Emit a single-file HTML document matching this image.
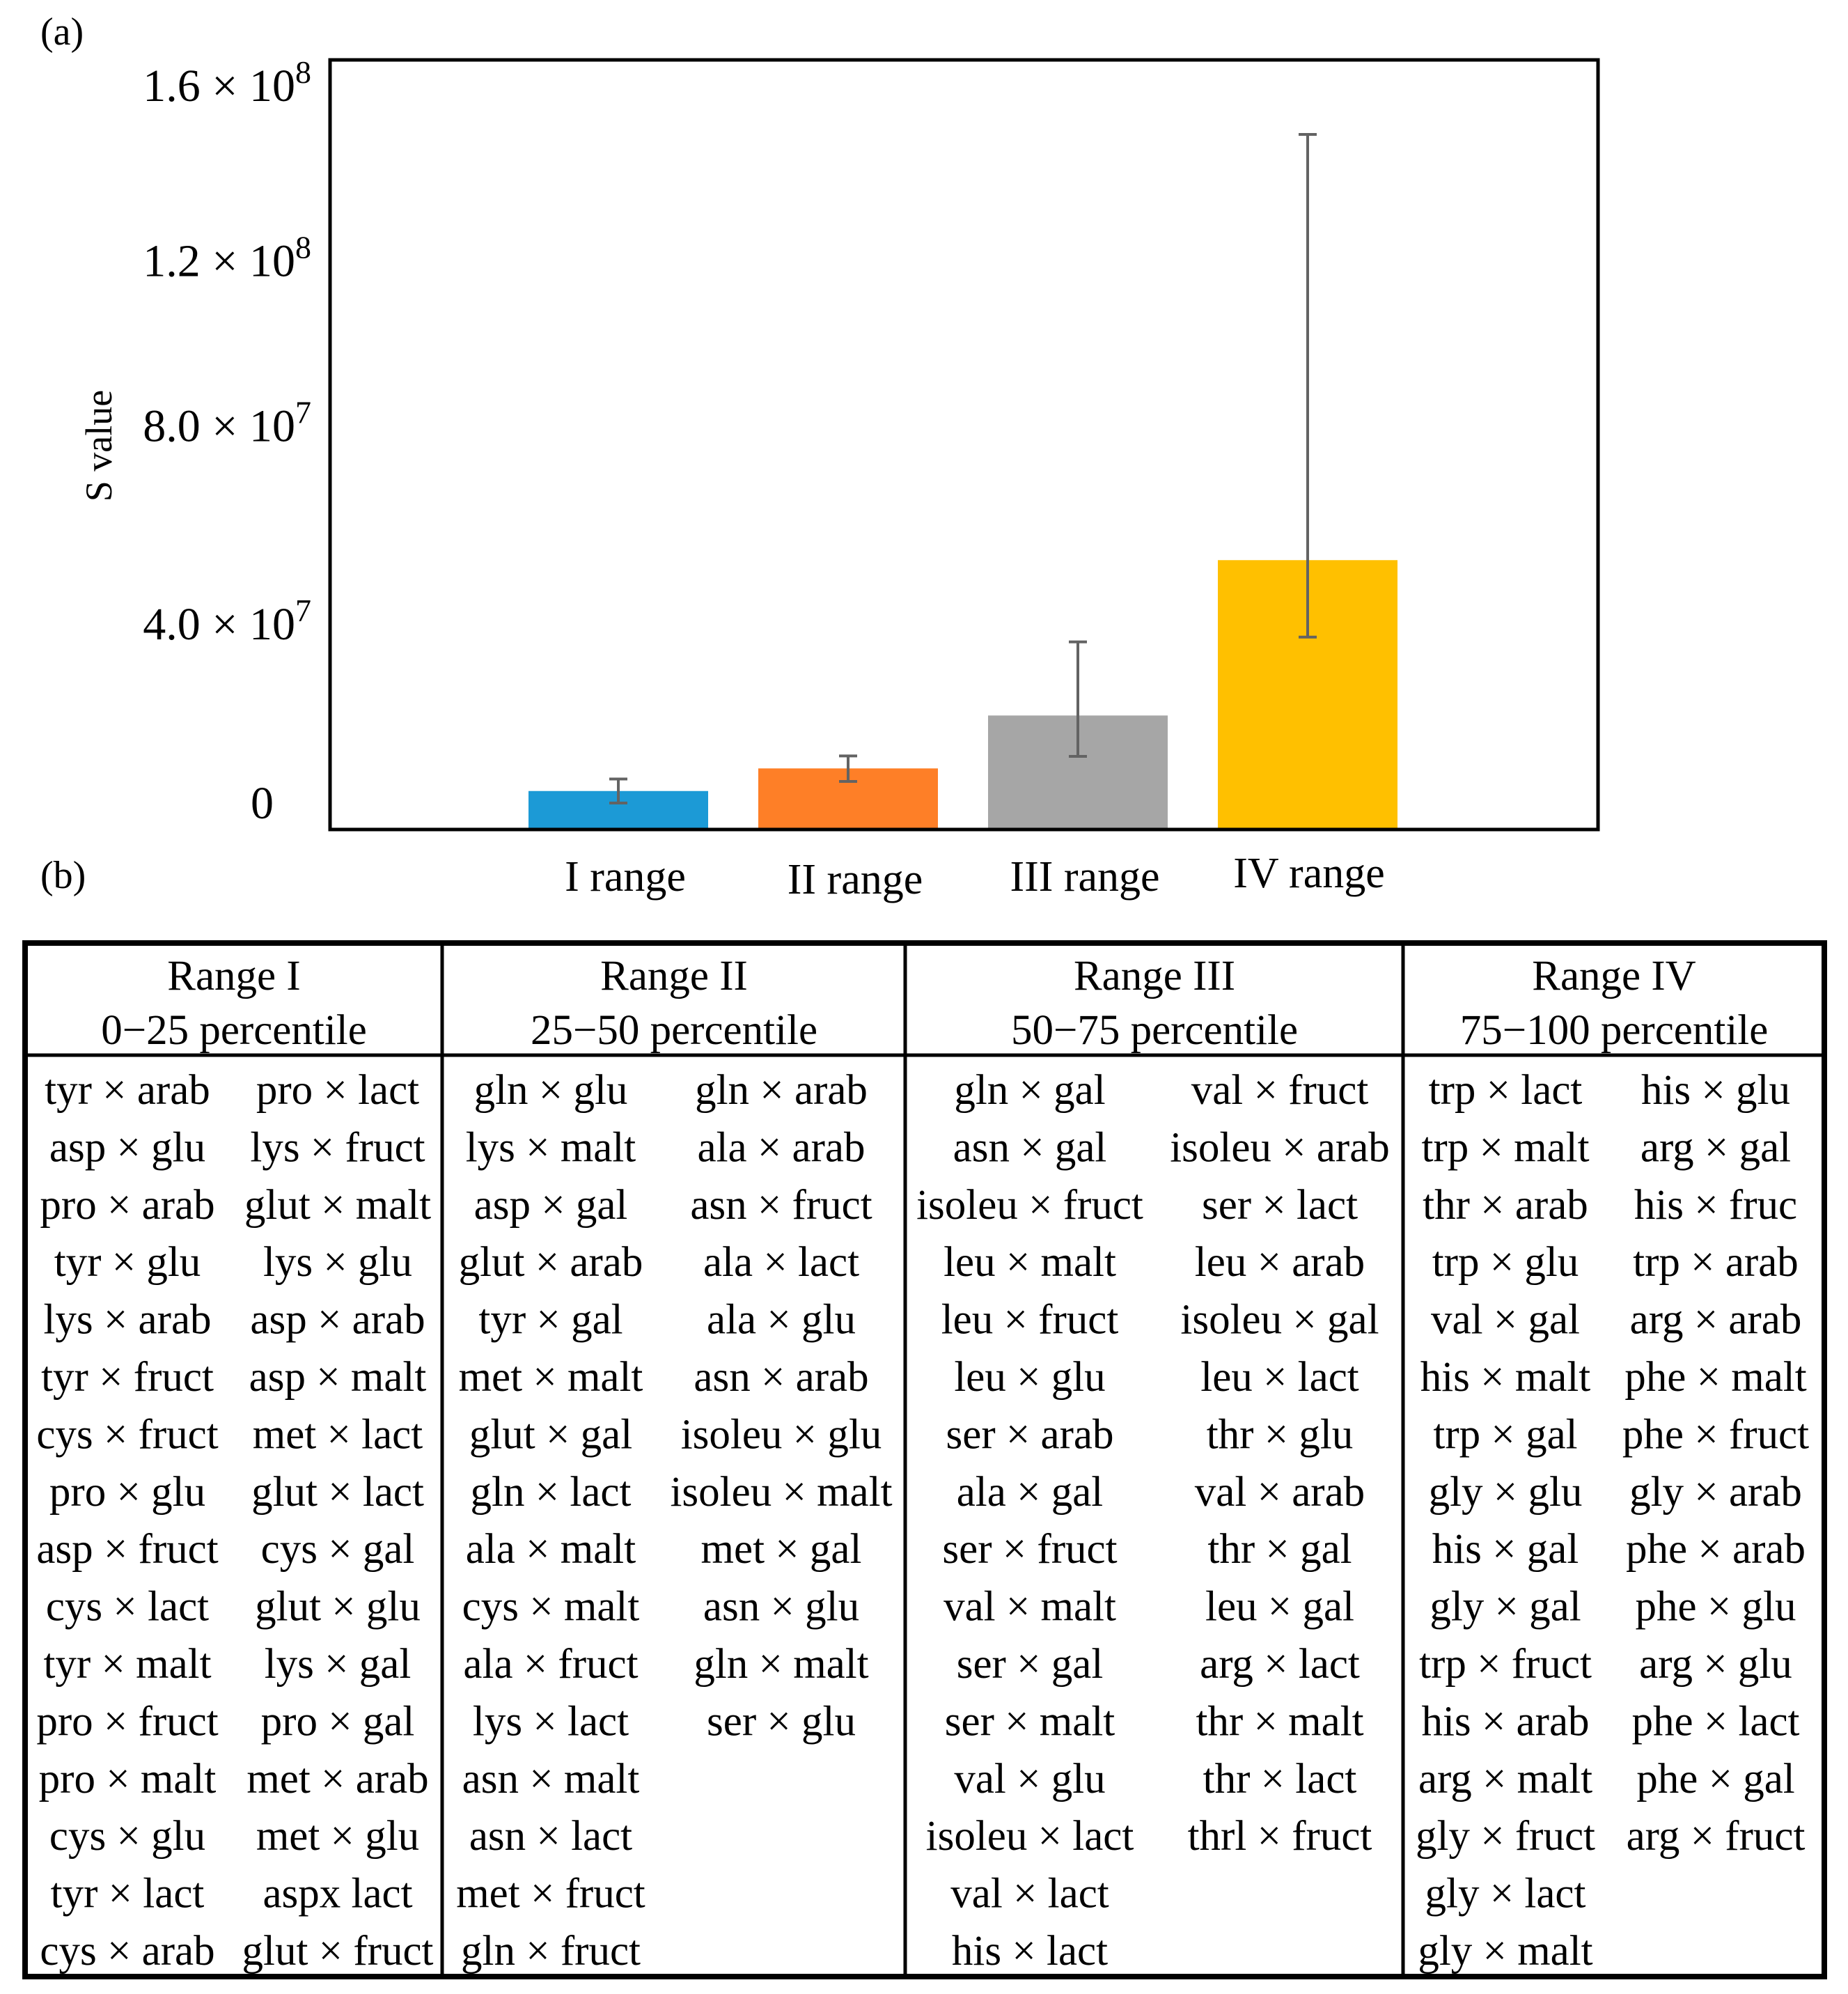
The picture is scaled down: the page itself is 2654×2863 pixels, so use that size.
<!DOCTYPE html>
<html><head><meta charset="utf-8">
<style>
html,body{margin:0;padding:0;background:#fff;}
svg{display:block;font-family:"Liberation Serif",serif;}
</style></head>
<body>
<svg id="fig" width="2654" height="2863" viewBox="0 0 2654 2863" xmlns="http://www.w3.org/2000/svg">
<text x="58" y="64" font-size="56">(a)</text>
<text x="58" y="1275" font-size="56">(b)</text>
<text transform="translate(160,640) rotate(-90)" text-anchor="middle" font-size="54">S value</text>
<g id="chart"></g>
<g id="table"></g>
</svg>
<script>
const categories = ["I range","II range","III range","IV range"];
const values = [8.0e6, 1.27e7, 2.37e7, 5.6e7];
const errLow = [5.5e6, 1.0e7, 1.52e7, 4.0e7];
const errHigh = [1.05e7, 1.53e7, 3.9e7, 1.445e8];
const tickValues = [0, 4e7, 8e7, 1.2e8, 1.6e8];
const tickMant = ["0","4.0","8.0","1.2","1.6"];
const tickExp = ["","7","7","8","8"];
const colors = ["#1c9ad6","#fe7f27","#a6a6a6","#ffc000"];

const NS="http://www.w3.org/2000/svg";
const L=474,R=2295,T=86,B=1191;
const yMax=1.6e8;
function y(v){return B-(v/yMax)*(B-T);}
function x(i){return 888+i*330;}
function mk(tag,attrs,parent){const e=document.createElementNS(NS,tag);for(const k in attrs)e.setAttribute(k,attrs[k]);parent.appendChild(e);return e;}
const chart=document.getElementById('chart');
const bw=258;
const labelDx=[10,10,10,2], labelDy=[1279,1283,1279,1274];
for(let i=0;i<categories.length;i++){
  const cx=x(i);
  const r=mk('rect',{x:cx-bw/2,y:y(values[i]),width:bw,height:B-y(values[i]),fill:colors[i]},chart);
  
  
  const g=mk('g',{stroke:'#636363','stroke-width':4},chart);
  
  
  mk('line',{x1:cx,x2:cx,y1:y(errLow[i]),y2:y(errHigh[i])},g);
  mk('line',{x1:cx-13,x2:cx+13,y1:y(errLow[i]),y2:y(errLow[i])},g);
  mk('line',{x1:cx-13,x2:cx+13,y1:y(errHigh[i]),y2:y(errHigh[i])},g);
  const t=mk('text',{x:cx+labelDx[i],y:labelDy[i],'text-anchor':'middle','font-size':62},chart);
  t.textContent=categories[i];
  
  
}
const fr=mk('rect',{x:L,y:T,width:R-L,height:B-T,fill:'none',stroke:'#000','stroke-width':5},chart);


const tickDy=[-16,3,-5,34,59];
for(let i=0;i<tickValues.length;i++){
  const ty=y(tickValues[i])+tickDy[i];
  const t=mk('text',{x:(i===0?393:447),y:ty,'text-anchor':'end','font-size':66},chart);
  
  
  if(tickExp[i]){
    t.textContent=tickMant[i]+" \u00d7 10";
    const s=mk('tspan',{dy:-26,'font-size':46},t);s.textContent=tickExp[i];
  } else t.textContent=tickMant[i];
}
// table
const tb=document.getElementById('table');
const headers=[["Range I","0\u221225 percentile"],["Range II","25\u221250 percentile"],["Range III","50\u221275 percentile"],["Range IV","75\u2212100 percentile"]];
const colX=[[183,485],[791,1122],[1479,1838],[2162,2464]];
const hdrX=[336,968,1658,2318];
const cols=[
[["tyr × arab","asp × glu","pro × arab","tyr × glu","lys × arab","tyr × fruct","cys × fruct","pro × glu","asp × fruct","cys × lact","tyr × malt","pro × fruct","pro × malt","cys × glu","tyr × lact","cys × arab"],
 ["pro × lact","lys × fruct","glut × malt","lys × glu","asp × arab","asp × malt","met × lact","glut × lact","cys × gal","glut × glu","lys × gal","pro × gal","met × arab","met × glu","aspx lact","glut × fruct"]],
[["gln × glu","lys × malt","asp × gal","glut × arab","tyr × gal","met × malt","glut × gal","gln × lact","ala × malt","cys × malt","ala × fruct","lys × lact","asn × malt","asn × lact","met × fruct","gln × fruct"],
 ["gln × arab","ala × arab","asn × fruct","ala × lact","ala × glu","asn × arab","isoleu × glu","isoleu × malt","met × gal","asn × glu","gln × malt","ser × glu"]],
[["gln × gal","asn × gal","isoleu × fruct","leu × malt","leu × fruct","leu × glu","ser × arab","ala × gal","ser × fruct","val × malt","ser × gal","ser × malt","val × glu","isoleu × lact","val × lact","his × lact"],
 ["val × fruct","isoleu × arab","ser × lact","leu × arab","isoleu × gal","leu × lact","thr × glu","val × arab","thr × gal","leu × gal","arg × lact","thr × malt","thr × lact","thrl × fruct"]],
[["trp × lact","trp × malt","thr × arab","trp × glu","val × gal","his × malt","trp × gal","gly × glu","his × gal","gly × gal","trp × fruct","his × arab","arg × malt","gly × fruct","gly × lact","gly × malt"],
 ["his × glu","arg × gal","his × fruc","trp × arab","arg × arab","phe × malt","phe × fruct","gly × arab","phe × arab","phe × glu","arg × glu","phe × lact","phe × gal","arg × fruct"]]
];
const g2=mk('g',{stroke:'#000','stroke-width':8,fill:'none'},tb);
mk('rect',{x:36,y:1354,width:2584,height:1484},g2);
mk('line',{x1:36,x2:2620,y1:1515,y2:1515,'stroke-width':5},g2);
[635,1300,2015].forEach(cx=>mk('line',{x1:cx,x2:cx,y1:1354,y2:2838,'stroke-width':5},g2));
for(let c=0;c<4;c++){
  for(let h=0;h<2;h++){
    const t=mk('text',{x:hdrX[c],y:1421+h*78,'text-anchor':'middle','font-size':61},tb);
    t.textContent=headers[c][h];
    
    
  }
  for(let s=0;s<2;s++){
    cols[c][s].forEach((txt,k)=>{
      const t=mk('text',{x:colX[c][s],y:1585+k*82.4,'text-anchor':'middle','font-size':61},tb);
      t.textContent=txt;
      
      
    });
  }
}
</script>
</body></html>
